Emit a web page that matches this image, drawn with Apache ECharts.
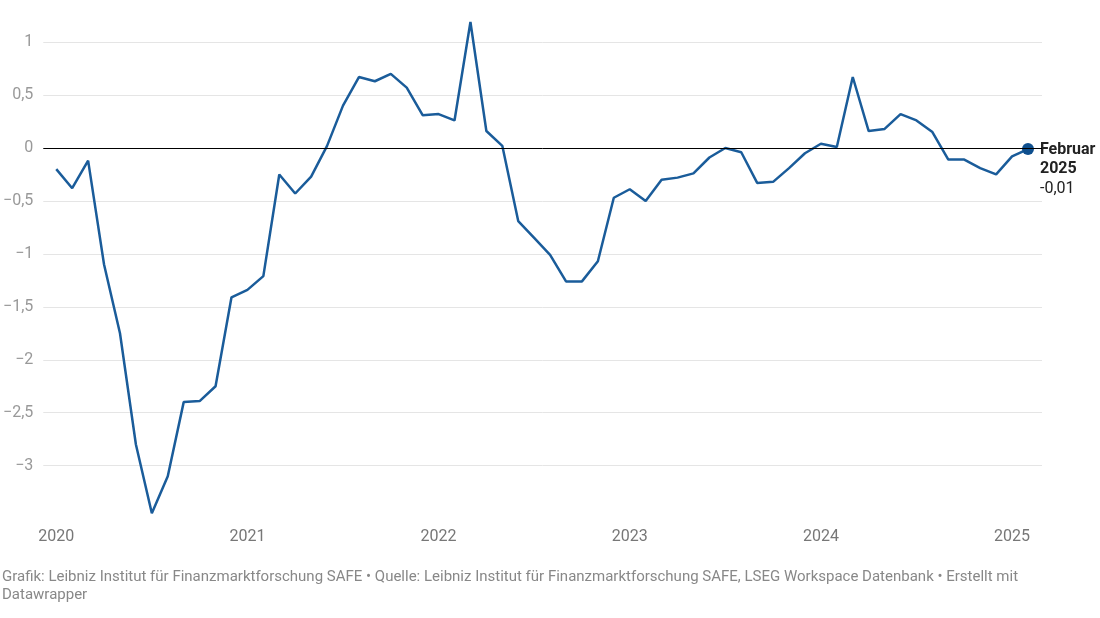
<!DOCTYPE html>
<html>
	<head>
		<meta charset="utf-8">
		<title></title>
		<script type="text/javascript" src="https://cdn.jsdelivr.net/npm/echarts@6/dist/echarts.min.js"></script>
		<style>
			body { margin: 0; background: #fff; }
			#chart { width: 1100px; height: 618px; }
		</style>
	</head>
	<body>
		<div id="chart"></div>
		<script type="text/javascript">
			// Monatswerte Jan 2020 - Feb 2025
			var values = [
				-0.20, -0.38, -0.12, -1.10, -1.75, -2.80, -3.45, -3.10, -2.40, -2.39, -2.25, -1.41,
				-1.34, -1.21, -0.25, -0.43, -0.27, 0.02, 0.40, 0.67, 0.63, 0.70, 0.57, 0.31,
				0.32, 0.26, 1.19, 0.16, 0.02, -0.69, -0.85, -1.01, -1.26, -1.26, -1.07, -0.47,
				-0.39, -0.50, -0.30, -0.28, -0.24, -0.09, 0.00, -0.04, -0.33, -0.32, -0.19, -0.05,
				0.04, 0.01, 0.67, 0.16, 0.18, 0.32, 0.26, 0.15, -0.11, -0.11, -0.19, -0.25,
				-0.08, -0.01
			];
			var years = ['2020', '2021', '2022', '2023', '2024', '2025'];
			var yearTicks = [0, 12, 24, 36, 48, 60];
			var lastLabel = ['Februar', '2025', '-0,01'];
			var footer = 'Grafik: Leibniz Institut für Finanzmarktforschung SAFE • Quelle: Leibniz Institut für Finanzmarktforschung SAFE, LSEG Workspace Datenbank • Erstellt mit\nDatawrapper';

			var lineColor = '#1a5c9a';

			var seriesData = values.map(function(v, i) {
				if (i == values.length - 1) {
					return {
						value: [i, v],
						symbol: 'circle',
						symbolSize: 12,
						itemStyle: { color: '#0e4f8e' },
						label: {
							show: true,
							position: 'right',
							distance: 6,
							offset: [0, 20],
							formatter: '{b|' + lastLabel[0] + '}\n{b|' + lastLabel[1] + '}\n{n|' + lastLabel[2] + '}',
							rich: {
								b: { fontFamily: 'Roboto', fontSize: 16, fontWeight: 'bold', color: '#222', lineHeight: 19.5 },
								n: { fontFamily: 'Roboto', fontSize: 16, color: '#222', lineHeight: 19.5 }
							}
						}
					};
				}
				return [i, v];
			});

			var myChart = echarts.init(document.getElementById('chart'), null, { renderer: 'canvas' });
			var option = {
				animation: false,
				backgroundColor: '#fff',
				textStyle: { fontFamily: 'Roboto' },
				grid: { left: 42, right: 58, top: 15.6, bottom: 99.4 },
				xAxis: {
					type: 'value',
					min: -0.815,
					max: 61.88,
					axisLine: { show: false },
					axisTick: { show: false },
					splitLine: { show: false },
					axisLabel: {
						customValues: yearTicks,
						margin: 10,
						fontSize: 16,
						color: '#777',
						formatter: function(value) {
							return years[yearTicks.indexOf(value)] || '';
						}
					}
				},
				yAxis: {
					type: 'value',
					min: -3.5,
					max: 1.25,
					interval: 0.5,
					axisLine: { show: false },
					axisTick: { show: false },
					axisLabel: {
						showMinLabel: false,
						showMaxLabel: false,
						margin: 10,
						fontSize: 16,
						color: '#999',
						formatter: function(value) {
							if (value == 0) return '0';
							return String(value).replace('.', ',').replace('-', '−');
						}
					},
					splitLine: {
						showMinLine: false,
						showMaxLine: false,
						lineStyle: { color: '#e5e5e5', width: 1 }
					}
				},
				series: [{
					type: 'line',
					data: seriesData,
					symbol: 'none',
					showSymbol: true,
					lineStyle: { color: lineColor, width: 2.5 },
					itemStyle: { color: lineColor },
					markLine: {
						silent: true,
						symbol: 'none',
						label: { show: false },
						lineStyle: { color: '#000', width: 1, type: 'solid' },
						data: [{ yAxis: 0 }]
					},
					z: 3
				}],
				graphic: [{
					type: 'text',
					left: 2,
					top: 568,
					style: {
						text: footer,
						fontFamily: 'Roboto',
						fontSize: 15,
						lineHeight: 18,
						fill: '#888'
					}
				}]
			};

			myChart.setOption(option);
		</script>
	</body>
</html>
